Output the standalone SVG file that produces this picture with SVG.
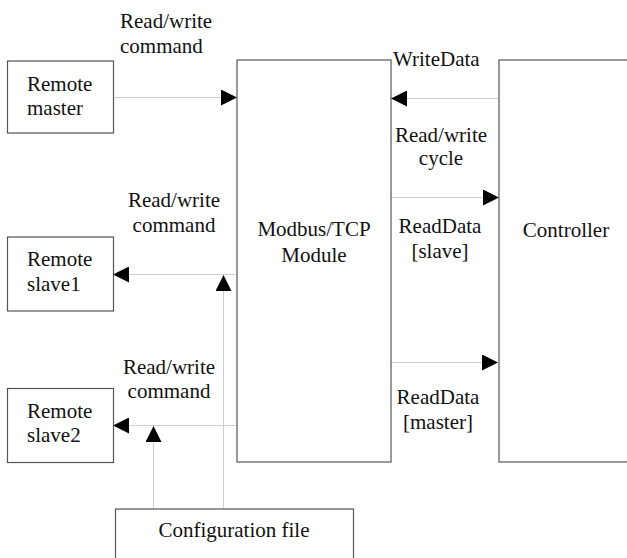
<svg xmlns="http://www.w3.org/2000/svg" width="627" height="558" viewBox="0 0 627 558" font-family="Liberation Serif, Times New Roman, serif">
<defs>
<style>
.box{fill:#fff;stroke:#555;stroke-width:1.2}
.ln{stroke:#cfcfcf;stroke-width:1;fill:none}
text{font-family:"Liberation Serif","Times New Roman",serif;font-size:21px;fill:#111}
.m{text-anchor:middle}
</style>
<marker id="ah" viewBox="0 0 16 16" refX="16" refY="8" markerWidth="16" markerHeight="16" markerUnits="userSpaceOnUse" orient="auto">
<path d="M0,0 L16,8 L0,16 Z" fill="#000"/>
</marker>
</defs>
<rect width="627" height="558" fill="#fff"/>
<g id="connectors">
<line class="ln" x1="113" y1="97.5" x2="237" y2="97.5" marker-end="url(#ah)"/>
<line class="ln" x1="499" y1="98.5" x2="391" y2="98.5" marker-end="url(#ah)"/>
<line class="ln" x1="391" y1="197.5" x2="499" y2="197.5" marker-end="url(#ah)"/>
<line class="ln" x1="391" y1="362.5" x2="498" y2="362.5" marker-end="url(#ah)"/>
<line class="ln" x1="237" y1="274.5" x2="113" y2="274.5" marker-end="url(#ah)"/>
<line class="ln" x1="237" y1="425.5" x2="113" y2="425.5" marker-end="url(#ah)"/>
<line class="ln" x1="223.5" y1="509" x2="223.5" y2="275" marker-end="url(#ah)"/>
<line class="ln" x1="153.5" y1="509" x2="153.5" y2="426" marker-end="url(#ah)"/>
</g>
<g id="remote-master">
<rect class="box" x="7.5" y="61" width="106" height="72"/>
<text x="27" y="91" font-family="Liberation Serif, serif">Remote</text>
<text x="27" y="115" font-family="Liberation Serif, serif">master</text>
</g>
<g id="remote-slave1">
<rect class="box" x="7.5" y="237" width="106" height="74"/>
<text x="27" y="266">Remote</text>
<text x="27" y="291">slave1</text>
</g>
<g id="remote-slave2">
<rect class="box" x="7.5" y="388.5" width="106" height="74"/>
<text x="27" y="418">Remote</text>
<text x="27" y="442">slave2</text>
</g>
<g id="modbus">
<rect class="box" x="237" y="60" width="154" height="402"/>
<text class="m" x="314" y="236">Modbus/TCP</text>
<text class="m" x="314" y="262">Module</text>
</g>
<g id="controller">
<rect class="box" x="499" y="60" width="140" height="402"/>
<text class="m" x="566" y="237">Controller</text>
</g>
<g id="config">
<rect class="box" x="115.5" y="509" width="238" height="60"/>
<text class="m" x="234" y="537">Configuration file</text>
</g>
<g id="labels">
<text x="120" y="28">Read/write</text>
<text x="120" y="53">command</text>
<text class="m" x="174" y="207">Read/write</text>
<text class="m" x="174" y="232">command</text>
<text class="m" x="169" y="374">Read/write</text>
<text class="m" x="169" y="398">command</text>
<text x="393" y="66">WriteData</text>
<text class="m" x="441" y="142">Read/write</text>
<text class="m" x="441" y="165">cycle</text>
<text class="m" x="440" y="233">ReadData</text>
<text class="m" x="440" y="258">[slave]</text>
<text class="m" x="438" y="404">ReadData</text>
<text class="m" x="438" y="429">[master]</text>
</g>
</svg>
